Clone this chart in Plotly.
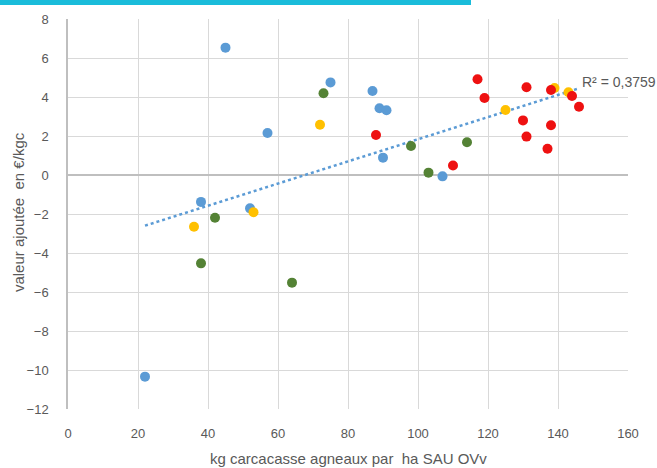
import numpy as np
import plotly.graph_objects as go

# Exploitations par groupe : kg carcasse agneaux / ha SAU OV et valeur ajoutée (€/kgc)
blue_x = [22, 38, 45, 52, 57, 75, 87, 89, 91, 90, 107]
blue_y = [-10.34, -1.38, 6.53, -1.71, 2.15, 4.75, 4.31, 3.42, 3.32, 0.89, -0.07]

green_x = [38, 42, 64, 73, 98, 103, 114]
green_y = [-4.53, -2.19, -5.52, 4.19, 1.49, 0.12, 1.68]

yellow_x = [36, 53, 72, 125, 139, 143]
yellow_y = [-2.65, -1.91, 2.58, 3.33, 4.46, 4.24]

red_x = [88, 110, 117, 119, 130, 131, 131, 137, 138, 138, 144, 146]
red_y = [2.05, 0.49, 4.91, 3.95, 2.80, 4.50, 1.97, 1.35, 2.55, 4.36, 4.05, 3.50]

r2_label = "R² = 0,3759"
x_title = "kg carcacasse agneaux par  ha SAU OVv"
y_title = "valeur ajoutée  en €/kgc"

x_ticks = list(range(0, 161, 20))
y_ticks = list(range(-12, 9, 2))

all_x = np.array(blue_x + green_x + yellow_x + red_x, dtype=float)
all_y = np.array(blue_y + green_y + yellow_y + red_y, dtype=float)
slope, intercept = np.polyfit(all_x, all_y, 1)
trend_x = np.array([all_x.min(), all_x.max()])
trend_y = slope * trend_x + intercept

fig = go.Figure()

fig.add_trace(go.Scatter(
    x=trend_x, y=trend_y, mode="lines",
    line=dict(color="#5B9BD5", width=2.5, dash="dot"),
    hoverinfo="skip", showlegend=False,
))

groups = [
    (blue_x, blue_y, "#5B9BD5"),
    (green_x, green_y, "#548235"),
    (yellow_x, yellow_y, "#FFC000"),
    (red_x, red_y, "#EE1111"),
]
for gx, gy, col in groups:
    fig.add_trace(go.Scatter(
        x=gx, y=gy, mode="markers",
        marker=dict(color=col, size=10, line=dict(width=0)),
        showlegend=False,
    ))

fig.add_annotation(
    x=trend_x[-1], y=trend_y[-1], xref="x", yref="y",
    text=r2_label, showarrow=False, xanchor="left", yanchor="middle",
    xshift=1, yshift=6,
    font=dict(family="Liberation Sans, Arial, sans-serif", size=14, color="#595959"),
)

title_font = dict(family="Liberation Sans, Arial, sans-serif", size=15, color="#595959")

# Titres des axes
fig.add_annotation(
    x=0.5, y=-49 / 390, xref="paper", yref="paper", text=x_title,
    showarrow=False, xanchor="center", yanchor="middle", font=title_font,
)
fig.add_annotation(
    x=-50 / 560, y=0.505, xref="paper", yref="paper", text=y_title,
    showarrow=False, xanchor="center", yanchor="middle", textangle=-90, font=title_font,
)

# Bandeau cyan en haut
fig.add_shape(
    type="rect", xref="paper", yref="paper",
    x0=-68 / 560, x1=(471 - 68) / 560,
    y0=(409 - 5) / 390, y1=(409 + 0) / 390 + 0.02,
    fillcolor="#1ABCDA", line=dict(width=0), layer="above",
)

axis_font = dict(family="Liberation Sans, Arial, sans-serif", size=13, color="#595959")

fig.update_layout(
    width=657, height=468,
    margin=dict(l=68, r=29, t=19, b=59),
    paper_bgcolor="white", plot_bgcolor="white",
    xaxis=dict(
        range=[0, 160], tickvals=x_ticks, showgrid=True, gridcolor="#D9D9D9", gridwidth=1,
        zeroline=False, showline=False, tickfont=axis_font, ticks="",
        ticklabelstandoff=15, automargin=False,
    ),
    yaxis=dict(
        range=[-12, 8], tickvals=y_ticks, showgrid=True, gridcolor="#D9D9D9", gridwidth=1,
        zeroline=True, zerolinecolor="#BFBFBF", zerolinewidth=1.5,
        showline=True, linecolor="#BFBFBF", linewidth=1.5,
        tickfont=axis_font, ticks="", ticklabelstandoff=15, automargin=False,
    ),
)

fig.write_html("out.html")
